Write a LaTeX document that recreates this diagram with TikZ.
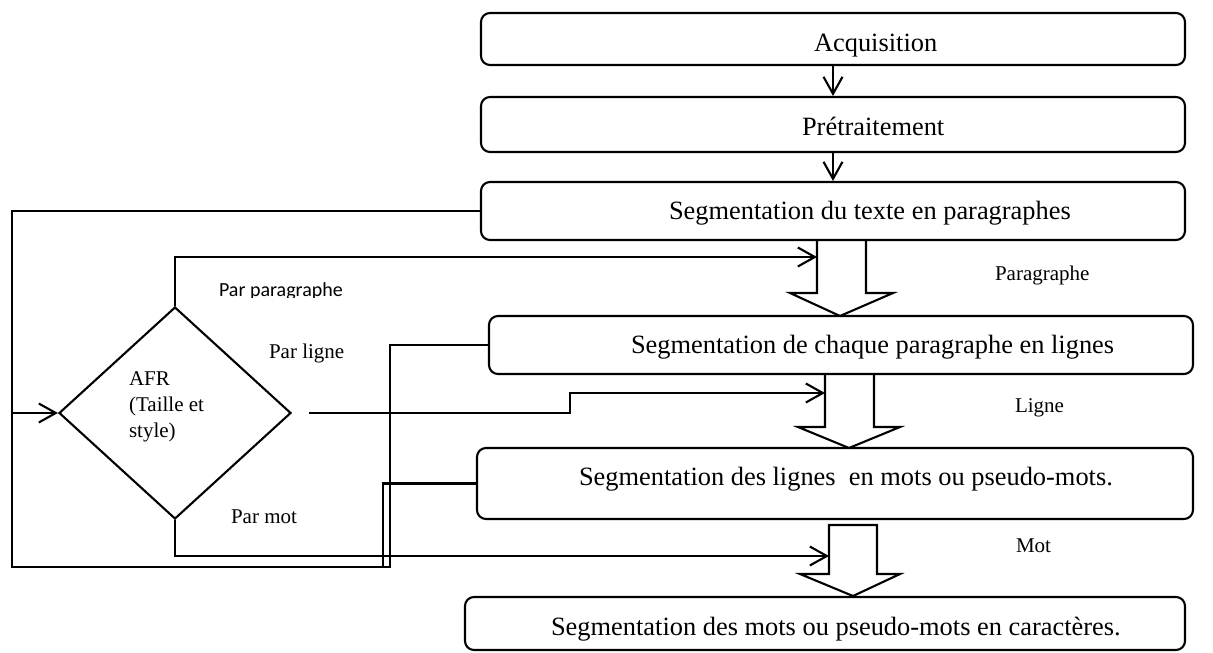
\documentclass[tikz,border=0pt]{standalone}
\usepackage{fontspec}
\setmainfont{Liberation Serif}
\newfontfamily\calibrifont{Carlito}
\usetikzlibrary{arrows.meta,shapes.geometric}
\begin{document}
\begin{tikzpicture}[x=1pt,y=-1pt,
  line width=2.1pt, line join=miter,
  stepbox/.style={draw, rounded corners=9pt, inner sep=0pt},
  boxtext/.style={anchor=base west, inner sep=0pt, font=\fontsize{26.4}{30}\selectfont},
  lbl/.style={anchor=base west, inner sep=0pt, font=\fontsize{21}{26}\selectfont},
  arr/.style={-{Straight Barb[length=17pt,width=19pt]}},
  blockarrow/.style={draw, line join=miter},
]
\useasboundingbox (0,0) rectangle (1213,653);

% processing steps
\node[stepbox, minimum width=704pt, minimum height=52pt] (b1) at (833,39) {};
\node[stepbox, minimum width=704pt, minimum height=55pt] (b2) at (833,124.5) {};
\node[stepbox, minimum width=704pt, minimum height=58pt] (b3) at (833,211) {};
\node[stepbox, minimum width=704pt, minimum height=58pt] (b4) at (841,345) {};
\node[stepbox, minimum width=716pt, minimum height=71pt] (b5) at (835,483.5) {};
\node[stepbox, minimum width=720pt, minimum height=53pt] (b6) at (825,623.5) {};

\node[boxtext] (t1) at (813,51) {Acquisition};
\node[boxtext] (t2) at (801,135) {Prétraitement};
\node[boxtext] (t3) at (668,219) {Segmentation du texte en paragraphes};
\node[boxtext] (t4) at (630,353) {Segmentation de chaque paragraphe en lignes};
\node[boxtext] (t5) at (578,485) {Segmentation des lignes\ \ en mots ou pseudo-mots.};
\node[boxtext] (t6) at (550,635) {Segmentation des mots ou pseudo-mots en caractères.};

\draw[arr] (b1.south) -- (b2.north);
\draw[arr] (b2.south) -- (b3.north);

% hollow block arrows between the segmentation levels
\draw[blockarrow] (817,240) -- (817,293) -- (790,293) -- (840,316) -- (893,293) -- (866,293) -- (866,240);
\draw[blockarrow] (825,374) -- (825,427) -- (798,427) -- (849,448) -- (900,427) -- (874,427) -- (874,374);
\draw[blockarrow] (829,525) -- (829,574) -- (800,574) -- (853,596) -- (900,574) -- (877,574) -- (877,525) -- cycle;
\coordinate (ba1l) at (817,257);
\coordinate (ba2l) at (825,393);
\coordinate (ba3l) at (829,556);

\node[lbl] (lp) at (994,280) {Paragraphe};
\node[lbl] (ll) at (1014,412) {Ligne};
\node[lbl] (lm) at (1015,552) {Mot};

% decision
\node[draw, diamond, minimum width=232pt, minimum height=212pt, inner sep=0pt] (afr) at (175,413) {};
\node[lbl, anchor=north west, align=left] (afrtxt) at (128,371) {AFR\\(Taille et\\style)};

\begin{scope}
  \clip (210,270) rectangle (370,297.5);
  \node[anchor=base west, inner sep=0pt, font=\calibrifont\fontsize{20}{24}\selectfont] (lpp) at (218,296) {Par paragraphe};
\end{scope}
\node[lbl] (lpl) at (268,358) {Par ligne};
\node[lbl] (lpm) at (230,523) {Par mot};

\draw[arr] (afr.north) |- (ba1l);
\draw[arr] ([xshift=17pt]afr.east) -- (570,413) -- (570,393) -- (ba2l);
\draw[arr] (afr.south) |- (ba3l);

% feedback from the segmentation steps
\coordinate (loop) at (12,413);
\draw (b3.west) -| (12,567) -- (390,567) |- (b4.west);
\draw (b5.west) -| (383,567);
\draw[arr] (loop) -- (afr.west);
\end{tikzpicture}
\end{document}
